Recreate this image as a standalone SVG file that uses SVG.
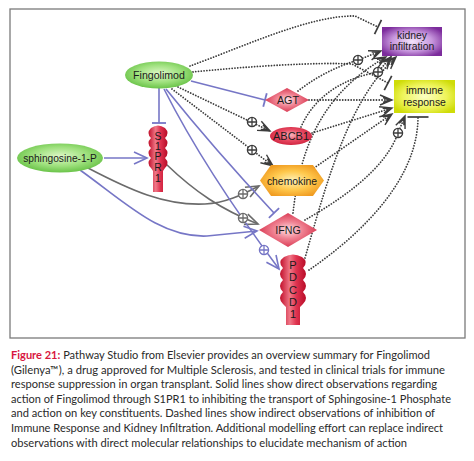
<svg xmlns="http://www.w3.org/2000/svg" width="474" height="461" viewBox="0 0 474 461">
<style>
.frame{fill:#fff;stroke:#7a7a7a;stroke-width:1.3}
.blue{fill:none;stroke:#7676c6;stroke-width:1.6}
.gray{fill:none;stroke:#6b6b6b;stroke-width:1.6}
.dot{fill:none;stroke:#3c3c3c;stroke-width:1.8;stroke-dasharray:0.01 2.8;stroke-linecap:round}
.lbl{font-family:"Liberation Sans",Arial,sans-serif;font-size:10.4px;fill:#1a1a1a;text-anchor:middle}
.cap{font-family:Lato,"Open Sans",sans-serif;font-size:11px;fill:#2a2a2a}
.fig{fill:#d8173f;font-weight:bold}
</style>
<defs>
<radialGradient id="gGreen" cx="50%" cy="45%" r="60%"><stop offset="0" stop-color="#dff8c8"/><stop offset="0.55" stop-color="#9de07c"/><stop offset="1" stop-color="#5fbd3e"/></radialGradient>
<linearGradient id="gRedV" x1="0" y1="0" x2="1" y2="0"><stop offset="0" stop-color="#c2102c"/><stop offset="0.38" stop-color="#f07888"/><stop offset="0.62" stop-color="#e03450"/><stop offset="1" stop-color="#b80c28"/></linearGradient>
<radialGradient id="gDia" cx="50%" cy="50%" r="55%"><stop offset="0" stop-color="#fde2e6"/><stop offset="0.45" stop-color="#f08393"/><stop offset="1" stop-color="#d6304a"/></radialGradient>
<radialGradient id="gEll" cx="50%" cy="45%" r="60%"><stop offset="0" stop-color="#f8b4bc"/><stop offset="0.5" stop-color="#e84a62"/><stop offset="1" stop-color="#cc1e3a"/></radialGradient>
<radialGradient id="gOr" cx="50%" cy="50%" r="55%"><stop offset="0" stop-color="#fff2b8"/><stop offset="0.55" stop-color="#ffc84c"/><stop offset="1" stop-color="#f09c22"/></radialGradient>
<radialGradient id="gPur" cx="50%" cy="50%" r="60%"><stop offset="0" stop-color="#f3e4fa"/><stop offset="0.55" stop-color="#c898de"/><stop offset="1" stop-color="#7c2c9c"/></radialGradient>
<radialGradient id="gYel" cx="50%" cy="50%" r="60%"><stop offset="0" stop-color="#fbffc4"/><stop offset="0.6" stop-color="#eef45a"/><stop offset="1" stop-color="#cfdc08"/></radialGradient>
<marker id="aB" viewBox="-14 -7 16 14" refX="0" refY="0" markerWidth="16" markerHeight="14" markerUnits="userSpaceOnUse" orient="auto" overflow="visible"><path d="M-13,-6 L0,0 L-13,6" fill="none" stroke="#7676c6" stroke-width="1.6"/></marker>
<marker id="aG" viewBox="-14 -7 16 14" refX="0" refY="0" markerWidth="16" markerHeight="14" markerUnits="userSpaceOnUse" orient="auto" overflow="visible"><path d="M-13,-5.5 L0,0 L-13,5.5" fill="none" stroke="#6b6b6b" stroke-width="1.6"/></marker>
<marker id="aD" viewBox="-14 -7 16 14" refX="0" refY="0" markerWidth="16" markerHeight="14" markerUnits="userSpaceOnUse" orient="auto" overflow="visible"><path d="M-12,-5 L0,0 L-12,5 M-9,-2.5 L-3,0 L-9,2.5" fill="none" stroke="#3c3c3c" stroke-width="1.4"/></marker>
<marker id="tB" viewBox="-2 -8 4 16" refX="0" refY="0" markerWidth="4" markerHeight="16" markerUnits="userSpaceOnUse" orient="auto" overflow="visible"><path d="M0,-7 V7" stroke="#7676c6" stroke-width="1.8"/></marker>
<marker id="tD" viewBox="-2 -9 4 18" refX="0" refY="0" markerWidth="4" markerHeight="18" markerUnits="userSpaceOnUse" orient="auto" overflow="visible"><path d="M0,-8 V8" stroke="#3c3c3c" stroke-width="1.7"/></marker>
<marker id="tDw" viewBox="-2 -11 4 22" refX="0" refY="0" markerWidth="4" markerHeight="22" markerUnits="userSpaceOnUse" orient="auto" overflow="visible"><path d="M0,-10.5 V10.5" stroke="#3c3c3c" stroke-width="1.7"/></marker>
<g id="pD"><circle r="4.6" fill="#fff" stroke="#3c3c3c" stroke-width="1.3"/><path d="M-4.6,0H4.6M0,-4.6V4.6" stroke="#3c3c3c" stroke-width="1.3"/></g>
<g id="pG"><circle r="4.6" fill="#fff" stroke="#6b6b6b" stroke-width="1.3"/><path d="M-4.6,0H4.6M0,-4.6V4.6" stroke="#6b6b6b" stroke-width="1.3"/></g>
<g id="pB"><circle r="4.6" fill="#fff" stroke="#7676c6" stroke-width="1.3"/><path d="M-4.6,0H4.6M0,-4.6V4.6" stroke="#7676c6" stroke-width="1.3"/></g>
</defs>

<rect class="frame" x="10" y="9" width="455" height="329"/>

<g id="connectors">
<!-- dotted indirect -->
<path class="dot" d="M190,66 C240,48 310,15 355,16 L378,27" marker-end="url(#tD)"/>
<path class="dot" d="M193,72 C250,66 320,62 352,64 L388,83" marker-end="url(#tD)"/>
<path class="dot" d="M178,87 L270,131" marker-end="url(#aD)"/>
<path class="dot" d="M172,89 L273,166" marker-end="url(#aD)"/>
<path class="dot" d="M309,100 L392,100" marker-end="url(#aD)"/>
<path class="dot" d="M298,91 Q325,70 358,60 L381,51" marker-end="url(#aD)"/>
<path class="dot" d="M312,133 L392,108" marker-end="url(#aD)"/>
<path class="dot" d="M301,127 C315,95 345,78 378,72 L391,57" marker-end="url(#aD)"/>
<path class="dot" d="M314,168 L392,114" marker-end="url(#aD)"/>
<path class="dot" d="M293,213 C300,150 320,95 386,57" marker-end="url(#aD)"/>
<path class="dot" d="M305,258 C330,170 350,100 396,57" marker-end="url(#aD)"/>
<path class="dot" d="M305,220 C340,200 385,170 398,133 L405,116" marker-end="url(#aD)"/>
<path class="dot" d="M309,270 C360,235 418,180 418,117" marker-end="url(#tDw)"/>
<!-- gray solid -->
<path class="gray" d="M88,168 C130,190 165,206 205,204 C225,203 242,195 259,186" marker-end="url(#aG)"/>
<path class="gray" d="M166,164 C195,192 222,210 258,224" marker-end="url(#aG)"/>
<!-- blue solid -->
<path class="blue" d="M159,88 V123" marker-end="url(#tB)"/>
<path class="blue" d="M191,81 L265,100" marker-end="url(#tB)"/>
<path class="blue" d="M166,89 Q215,150 274,213" marker-end="url(#tB)"/>
<path class="blue" d="M164,89 Q205,170 279,269" marker-end="url(#aB)"/>
<path class="blue" d="M104,158 L147,158" marker-end="url(#aB)"/>
<path class="blue" d="M80,170 C125,202 160,238 207,236 L257,231" marker-end="url(#aB)"/>
<!-- activation signs -->
<use href="#pD" x="252" y="122"/>
<use href="#pD" x="252" y="150"/>
<use href="#pD" x="358" y="60"/>
<use href="#pD" x="378" y="72"/>
<use href="#pD" x="398" y="133"/>
<use href="#pG" x="243" y="194"/>
<use href="#pG" x="243" y="218"/>
<use href="#pB" x="264" y="250"/>
</g>

<g id="kidney-infiltration">
<rect x="382" y="27" width="60" height="29" fill="url(#gPur)"/>
<text class="lbl" x="412" y="38.7">kidney</text>
<text class="lbl" x="412" y="50">infiltration</text>
</g>
<g id="immune-response">
<rect x="394" y="80" width="61" height="33" fill="url(#gYel)"/>
<text class="lbl" x="424.5" y="93.7">immune</text>
<text class="lbl" x="424.5" y="105.5">response</text>
</g>
<g id="fingolimod">
<ellipse cx="159" cy="75" rx="34" ry="13.5" fill="url(#gGreen)"/>
<text class="lbl" x="159" y="78.7" style="font-size:10.6px">Fingolimod</text>
</g>
<g id="sphingosine-1-p">
<ellipse cx="60" cy="158" rx="43" ry="14.5" fill="url(#gGreen)"/>
<text class="lbl" x="60" y="161.5" style="font-size:10.2px">sphingosine-1-P</text>
</g>
<g id="s1pr1">
<path d="M151,128 Q158,123 165,128 Q170,133 165,138 Q170,143 165,148 Q170,153 165,158 Q170,163 165,168 L163,171 V192 H153 V171 L151,168 Q146,163 151,158 Q146,153 151,148 Q146,143 151,138 Q146,133 151,128 Z" fill="url(#gRedV)"/>
<text class="lbl" x="158" y="140">S</text>
<text class="lbl" x="158" y="150">1</text>
<text class="lbl" x="158" y="160">P</text>
<text class="lbl" x="158" y="171">R</text>
<text class="lbl" x="158" y="182">1</text>
</g>
<g id="agt">
<polygon points="265,100 287,88 309,100 287,112" fill="url(#gDia)"/>
<text class="lbl" x="288" y="103.5" style="font-size:10.8px">AGT</text>
</g>
<g id="abcb1">
<ellipse cx="291" cy="136" rx="21" ry="9" fill="url(#gEll)"/>
<text class="lbl" x="291" y="140" style="font-size:11px">ABCB1</text>
</g>
<g id="chemokine">
<polygon points="260,180.5 271,165 313,165 324,180.5 313,196 271,196" fill="url(#gOr)"/>
<text class="lbl" x="292" y="184.5">chemokine</text>
</g>
<g id="ifng">
<polygon points="259,230 288,213 317,230 288,247" fill="url(#gDia)"/>
<text class="lbl" x="288" y="234" style="font-size:10.6px">IFNG</text>
</g>
<g id="pdcd1">
<path d="M284,257 Q293,252 302,257 Q309,262 303,268 Q309,274 303,280 Q309,286 303,292 Q309,298 303,304 L300,307 V325 H286 V307 L283,304 Q277,298 283,292 Q277,286 283,280 Q277,274 283,268 Q277,262 284,257 Z" fill="url(#gRedV)"/>
<text class="lbl" x="293" y="269" style="font-size:11px">P</text>
<text class="lbl" x="293" y="281" style="font-size:11px">D</text>
<text class="lbl" x="293" y="294" style="font-size:11px">C</text>
<text class="lbl" x="293" y="306" style="font-size:11px">D</text>
<text class="lbl" x="293" y="318" style="font-size:11px">1</text>
</g>

<g id="caption">
<text class="cap" x="11" y="359" textLength="419" lengthAdjust="spacingAndGlyphs"><tspan class="fig">Figure 21:</tspan> Pathway Studio from Elsevier provides an overview summary for Fingolimod</text>
<text class="cap" x="11" y="373.5" textLength="434" lengthAdjust="spacingAndGlyphs">(Gilenya™), a drug approved for Multiple Sclerosis, and tested in clinical trials for immune</text>
<text class="cap" x="11" y="388" textLength="426" lengthAdjust="spacingAndGlyphs">response suppression in organ transplant. Solid lines show direct observations regarding</text>
<text class="cap" x="11" y="402.5" textLength="440" lengthAdjust="spacingAndGlyphs">action of Fingolimod through S1PR1 to inhibiting the transport of Sphingosine-1 Phosphate</text>
<text class="cap" x="11" y="417" textLength="424" lengthAdjust="spacingAndGlyphs">and action on key constituents. Dashed lines show indirect observations of inhibition of</text>
<text class="cap" x="11" y="432" textLength="432" lengthAdjust="spacingAndGlyphs">Immune Response and Kidney Infiltration. Additional modelling effort can replace indirect</text>
<text class="cap" x="11" y="446.5" textLength="396" lengthAdjust="spacingAndGlyphs">observations with direct molecular relationships to elucidate mechanism of action</text>
</g>
</svg>
